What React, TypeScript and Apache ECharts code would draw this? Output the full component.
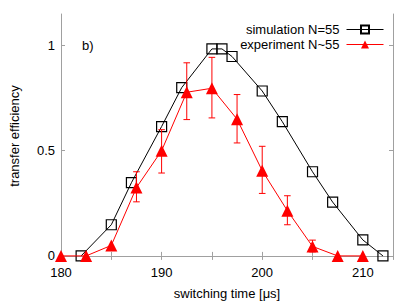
import React, { useEffect, useRef } from "react";
import * as echarts from "echarts";

const simX = [182, 185, 187, 190, 192, 195, 196, 197, 200, 202, 205, 207, 210, 212];
const simY = [0, 0.148, 0.348, 0.615, 0.8, 0.984, 0.984, 0.948, 0.784, 0.638, 0.4, 0.256, 0.076, 0];

const expX = [180, 182.5, 185, 187.5, 190, 192.5, 195, 197.5, 200, 202.5, 205, 207.5, 210];
const expY = [0, 0, 0.05, 0.325, 0.5, 0.778, 0.797, 0.65, 0.405, 0.215, 0.045, 0, 0];
const expLo = [0, 0, 0.05, 0.257, 0.394, 0.648, 0.656, 0.537, 0.297, 0.148, 0.019, 0, 0];
const expHi = [0, 0, 0.05, 0.4, 0.6, 0.918, 0.944, 0.767, 0.521, 0.286, 0.075, 0, 0];

const xLabels = [180, 190, 200, 210];
const yLabels = [0, 0.5, 1];

const FONT = "Liberation Sans, Arial, sans-serif";
const AXIS_COLOR = "#a0a0a0";

export default function App() {
  const ref = useRef<HTMLDivElement>(null);
  useEffect(() => {
    if (!ref.current) return;
    const chart = echarts.init(ref.current, undefined, { renderer: "svg" });
    const tickStyle = { show: true, inside: true, length: 4, lineStyle: { color: AXIS_COLOR, width: 1 } };
    const lineStyle = { show: true, lineStyle: { color: AXIS_COLOR, width: 1 } };
    const option: any = {
      animation: false,
      backgroundColor: "#fff",
      textStyle: { fontFamily: FONT },
      grid: { left: 61, right: 22, top: 14, bottom: 47 },
      legend: {
        orient: "vertical",
        align: "right",
        right: 31,
        top: 23,
        padding: 0,
        itemWidth: 37,
        itemHeight: 10,
        itemGap: 2,
        lineStyle: { width: 1 },
        textStyle: { fontSize: 13, color: "#000", fontFamily: FONT, padding: [0, 2, 0, 0] },
        data: ["simulation N=55", "experiment N~55"],
      },
      xAxis: [
        {
          type: "value",
          min: 180,
          max: 213,
          interval: 5,
          axisLine: lineStyle,
          axisTick: tickStyle,
          splitLine: { show: false },
          axisLabel: {
            customValues: xLabels,
            fontSize: 13,
            color: "#000",
            margin: 8,
            fontFamily: FONT,
          },
          name: "switching time [μs]",
          nameLocation: "middle",
          nameGap: 29,
          nameTextStyle: { fontSize: 13, color: "#000", fontFamily: FONT },
        },
        {
          type: "value",
          position: "top",
          min: 180,
          max: 213,
          interval: 5,
          axisLine: lineStyle,
          axisTick: tickStyle,
          splitLine: { show: false },
          axisLabel: { show: false },
        },
      ],
      yAxis: [
        {
          type: "value",
          min: -0.01,
          max: 1.15,
          axisLine: lineStyle,
          axisTick: { ...tickStyle, customValues: yLabels },
          splitLine: { show: false },
          axisLabel: {
            customValues: yLabels,
            fontSize: 13,
            color: "#000",
            margin: 6,
            fontFamily: FONT,
            formatter: (v: number) => String(v),
          },
          name: "transfer efficiency",
          nameLocation: "middle",
          nameGap: 40,
          nameTextStyle: { fontSize: 13, color: "#000", fontFamily: FONT },
        },
        {
          type: "value",
          position: "right",
          min: -0.01,
          max: 1.15,
          axisLine: lineStyle,
          axisTick: { ...tickStyle, customValues: yLabels },
          splitLine: { show: false },
          axisLabel: { show: false },
        },
      ],
      graphic: [
        {
          type: "text",
          left: 82,
          top: 39,
          style: { text: "b)", fontSize: 13, fill: "#000", fontFamily: FONT },
        },
      ],
      series: [
        {
          name: "simulation N=55",
          type: "line",
          data: simX.map((x, i) => [x, simY[i]]),
          symbol: "rect",
          symbolSize: 10,
          showAllSymbol: true,
          lineStyle: { color: "#000", width: 1 },
          itemStyle: { color: "rgba(255,255,255,0)", borderColor: "#000", borderWidth: 1.2 },
          color: "#000",
          z: 3,
        },
        {
          name: "experiment-err",
          type: "custom",
          data: expX.map((x, i) => [x, expLo[i], expHi[i]]),
          renderItem: (params: any, api: any) => {
            const x = api.value(0);
            const lo = api.value(1);
            const hi = api.value(2);
            if (hi - lo < 1e-6) return null;
            const pLo = api.coord([x, lo]);
            const pHi = api.coord([x, hi]);
            const c = 3.3;
            const st = { stroke: "#ff0000", lineWidth: 1 };
            return {
              type: "group",
              children: [
                { type: "line", shape: { x1: pLo[0], y1: pLo[1], x2: pHi[0], y2: pHi[1] }, style: st },
                { type: "line", shape: { x1: pLo[0] - c, y1: pLo[1], x2: pLo[0] + c, y2: pLo[1] }, style: st },
                { type: "line", shape: { x1: pHi[0] - c, y1: pHi[1], x2: pHi[0] + c, y2: pHi[1] }, style: st },
              ],
            };
          },
          encode: { x: 0, y: [1, 2] },
          z: 4,
        },
        {
          name: "experiment N~55",
          type: "line",
          data: expX.map((x, i) => [x, expY[i]]),
          symbol: "triangle",
          symbolSize: 12,
          showAllSymbol: true,
          lineStyle: { color: "#ff0000", width: 1 },
          itemStyle: { color: "#ff0000" },
          color: "#ff0000",
          z: 5,
        },
      ],
    };
    chart.setOption(option);
    return () => chart.dispose();
  }, []);
  return <div ref={ref} style={{ width: 415, height: 305, position: "absolute", left: 0, top: 0 }} />;
}
